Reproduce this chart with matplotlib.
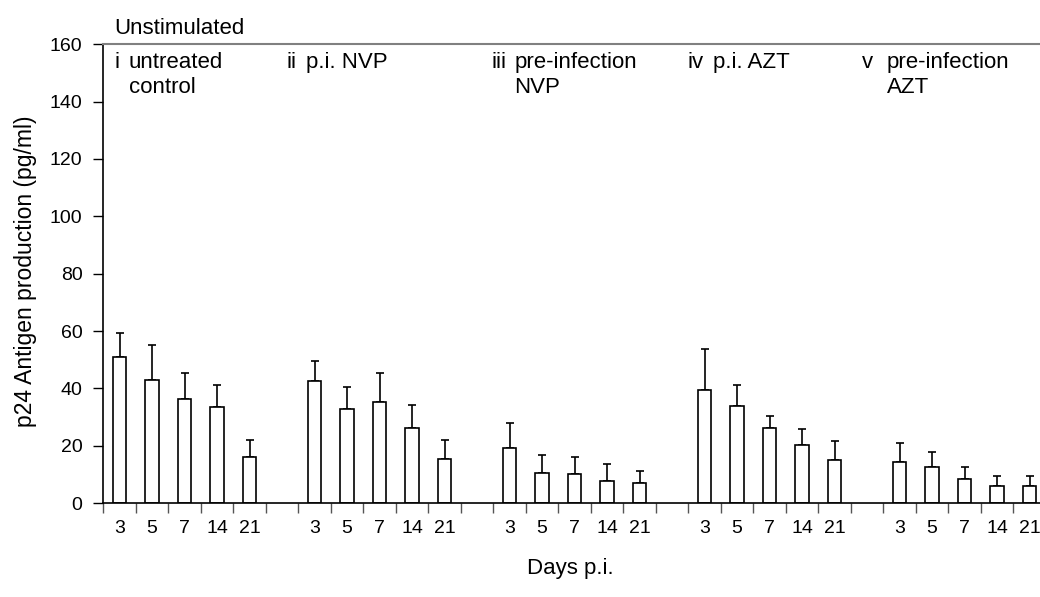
import matplotlib
matplotlib.use("Agg")
from matplotlib import pyplot as plt
import numpy as np

plt.rcParams["font.family"] = ["Liberation Sans", "DejaVu Sans"]

days = ["3", "5", "7", "14", "21"]
numerals = ["i", "ii", "iii", "iv", "v"]
group_names = ["untreated\ncontrol", "p.i. NVP", "pre-infection\nNVP", "p.i. AZT", "pre-infection\nAZT"]

# p24 means (pg/ml), one list per group, days 3,5,7,14,21
control = [50.9, 42.9, 36.4, 33.5, 16.1]
pi_nvp = [42.6, 32.9, 35.3, 26.3, 15.4]
pre_nvp = [19.2, 10.7, 10.2, 7.8, 7.2]
pi_azt = [39.5, 34.0, 26.3, 20.3, 15.0]
pre_azt = [14.4, 12.5, 8.4, 5.9, 5.9]

# upper error bars
control_err = [8.3, 12.2, 9.1, 7.7, 5.9]
pi_nvp_err = [7.0, 7.7, 10.2, 7.8, 6.6]
pre_nvp_err = [8.9, 6.1, 6.0, 5.9, 4.1]
pi_azt_err = [14.2, 7.2, 4.1, 5.5, 6.6]
pre_azt_err = [6.7, 5.5, 4.1, 3.6, 3.6]

means = [control, pi_nvp, pre_nvp, pi_azt, pre_azt]
errs = [control_err, pi_nvp_err, pre_nvp_err, pi_azt_err, pre_azt_err]

fig = plt.figure(figsize=(10.4, 5.97), dpi=100)
ax = fig.add_axes([0.0993, 0.157, 0.9063, 0.769])

fs = 16
tfs = 14
label_pos = []
label_txt = []
for g in range(5):
    x = np.arange(5) + g * 6 + 0.5
    m = np.array(means[g])
    e = np.array(errs[g])
    ax.bar(x, m, width=0.42, facecolor="white", edgecolor="black", linewidth=1.2, zorder=2)
    ax.errorbar(x, m, yerr=[np.zeros(5), e], fmt="none", ecolor="black",
                elinewidth=1.2, capsize=3, capthick=1.2, zorder=1)
    label_pos.extend(x)
    label_txt.extend(days)

# group labels (numeral, then text lines)
num_x = [0.36, 5.65, 11.95, 17.99, 23.35]
name_x = [0.78, 6.24, 12.64, 18.76, 24.11]
for g in range(5):
    ax.text(num_x[g], 151.6, numerals[g], fontsize=fs, va="baseline", ha="left")
    for k, line in enumerate(group_names[g].split("\n")):
        ax.text(name_x[g], 151.6 - k * 8.5, line, fontsize=fs, va="baseline", ha="left")

ax.text(0.33, 163.7, "Unstimulated", fontsize=fs, va="baseline", ha="left", clip_on=False)

ax.set_xlim(0, 29)
ax.set_ylim(0, 160)
ax.set_yticks(np.arange(0, 161, 20))
ax.set_xticks(np.arange(0, 30))
ax.set_xticklabels([])
ax.set_xticks(label_pos, minor=True)
ax.set_xticklabels(label_txt, minor=True)
ax.tick_params(axis="x", which="minor", length=0, pad=12, labelsize=tfs)
ax.tick_params(axis="x", which="major", direction="out", length=7, width=1, color="#555555")
ax.tick_params(axis="y", direction="out", length=7, width=1, labelsize=tfs, pad=8)

ax.spines["right"].set_visible(False)
ax.spines["top"].set_color("#808080")
ax.spines["top"].set_linewidth(1.5)
ax.spines["left"].set_linewidth(1.2)
ax.spines["bottom"].set_linewidth(1.2)

fig.text(0.025, 0.545, "p24 Antigen production (pg/ml)", fontsize=16.5, rotation=90,
         ha="center", va="center")
fig.text(0.548, 0.048, "Days p.i.", fontsize=fs, ha="center", va="center")

fig.savefig("out.png", dpi=100)
